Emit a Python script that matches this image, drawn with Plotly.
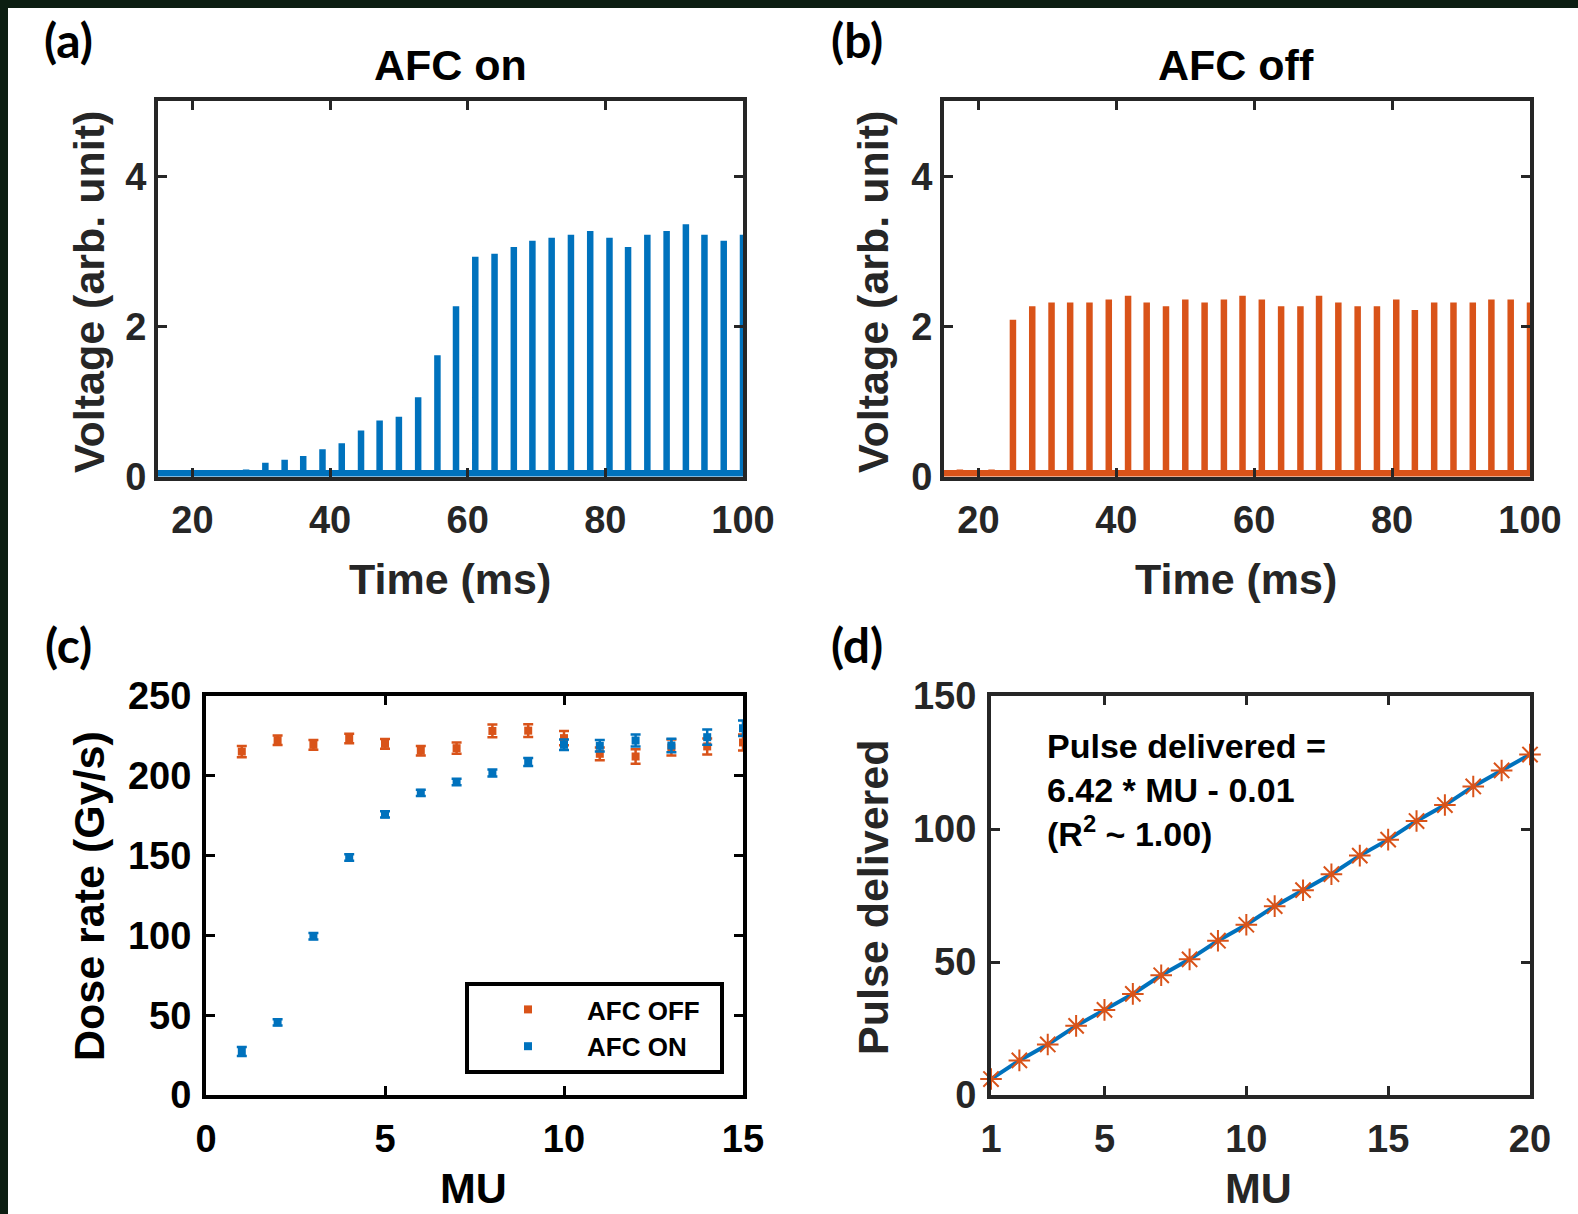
import plotly.graph_objects as go

W, H = 1578, 1214

# ---------------- data ----------------
# (a) AFC on: pulse times (ms) and peak voltages (arb. unit)
afc_on_times = [27.8, 30.6, 33.4, 36.1, 38.9, 41.7, 44.5, 47.2, 50.0, 52.8, 55.6, 58.3,
                61.1, 63.9, 66.7, 69.4, 72.2, 75.0, 77.8, 80.6, 83.3, 86.1, 88.9, 91.7,
                94.4, 97.2, 100.0]
afc_on_peaks = [0.10, 0.19, 0.23, 0.28, 0.37, 0.45, 0.62, 0.75, 0.80, 1.06, 1.62, 2.27,
                2.93, 2.97, 3.06, 3.14, 3.18, 3.22, 3.27, 3.18, 3.06, 3.22, 3.27, 3.36,
                3.22, 3.14, 3.22]

# (b) AFC off: pulse times (ms) and peak voltages (arb. unit)
afc_off_times = [17.3, 21.9, 25.0, 27.8, 30.6, 33.3, 36.1, 38.9, 41.7, 44.4, 47.2, 50.0,
                 52.8, 55.6, 58.3, 61.1, 63.9, 66.7, 69.4, 72.2, 75.0, 77.8, 80.6, 83.3,
                 86.1, 88.9, 91.7, 94.4, 97.2, 100.0]
afc_off_peaks = [0.10, 0.10, 2.09, 2.27, 2.32, 2.32, 2.32, 2.36, 2.41, 2.32, 2.27, 2.36,
                 2.32, 2.36, 2.41, 2.36, 2.27, 2.27, 2.41, 2.32, 2.27, 2.27, 2.36, 2.22,
                 2.32, 2.32, 2.32, 2.36, 2.36, 2.32]
baseline_voltage = 0.05
time_start, time_end = 15, 100

# (c) dose rate vs MU
mu_c = [1, 2, 3, 4, 5, 6, 7, 8, 9, 10, 11, 12, 13, 14, 15]
dose_off = [215.2, 222.3, 219.4, 223.4, 220.0, 215.7, 217.3, 228.1, 228.3, 223.6,
            213.8, 212.1, 217.7, 218.4, 220.9]
dose_off_err = [3.5, 3.0, 3.0, 3.0, 3.0, 3.0, 3.5, 4.0, 4.0, 4.5, 4.0, 4.5, 5.0, 5.0, 5.0]
dose_on = [27.2, 45.5, 99.5, 148.8, 175.8, 189.3, 196.1, 201.7, 208.6, 219.4,
           218.8, 222.1, 219.0, 224.2, 229.8]
dose_on_err = [2.8, 2.0, 2.0, 2.0, 2.0, 2.0, 2.0, 2.2, 2.5, 3.3, 3.6, 3.8, 4.2, 4.8, 4.8]

# (d) pulses delivered vs MU
mu_d = [1, 2, 3, 4, 5, 6, 7, 8, 9, 10, 11, 12, 13, 14, 15, 16, 17, 18, 19, 20]
pulses_d = [6, 13, 19, 26, 32, 38, 45, 51, 58, 64, 71, 77, 83, 90, 96, 103, 109, 116, 122, 128]

BLUE = '#0072BD'
ORANGE = '#D95319'
GRAY = '#262626'


def pulse_train(times, peaks):
    xs, ys = [time_start], [baseline_voltage]
    for t, p in zip(times, peaks):
        xs += [t, t, t]
        ys += [baseline_voltage, p, baseline_voltage]
    xs.append(time_end)
    ys.append(baseline_voltage)
    return xs, ys


fig = go.Figure()

xa, ya = pulse_train(afc_on_times, afc_on_peaks)
fig.add_trace(go.Scatter(x=xa, y=ya, mode='lines', line=dict(color=BLUE, width=6.5),
                         showlegend=False, xaxis='x', yaxis='y'))
xb, yb = pulse_train(afc_off_times, afc_off_peaks)
fig.add_trace(go.Scatter(x=xb, y=yb, mode='lines', line=dict(color=ORANGE, width=6.5),
                         showlegend=False, xaxis='x2', yaxis='y2'))

fig.add_trace(go.Scatter(x=mu_c, y=dose_off, mode='markers', name='AFC OFF&nbsp;&nbsp;',
                         marker=dict(symbol='square', size=8, color=ORANGE),
                         error_y=dict(type='data', array=dose_off_err, color=ORANGE,
                                      thickness=2.5, width=5),
                         cliponaxis=False, xaxis='x3', yaxis='y3'))
fig.add_trace(go.Scatter(x=mu_c, y=dose_on, mode='markers', name='AFC ON',
                         marker=dict(symbol='square', size=8, color=BLUE),
                         error_y=dict(type='data', array=dose_on_err, color=BLUE,
                                      thickness=2.5, width=5),
                         cliponaxis=False, xaxis='x3', yaxis='y3'))

fig.add_trace(go.Scatter(x=mu_d, y=pulses_d, mode='lines', line=dict(color=BLUE, width=4),
                         showlegend=False, xaxis='x4', yaxis='y4'))
fig.add_trace(go.Scatter(x=mu_d, y=pulses_d, mode='markers',
                         marker=dict(symbol='asterisk-open', size=18, color=ORANGE,
                                     line=dict(color=ORANGE, width=2)),
                         cliponaxis=False, showlegend=False, xaxis='x4', yaxis='y4'))


def axis(color, domain, rng, tickvals, anchor, standoff):
    return dict(domain=domain, range=rng, tickvals=tickvals, anchor=anchor,
                automargin=False,
                showline=True, linecolor=color, linewidth=4, mirror='ticks',
                ticks='inside', ticklen=9, tickwidth=3, tickcolor=color,
                showgrid=False, zeroline=False, ticklabelstandoff=standoff,
                tickfont=dict(family='Liberation Sans', size=38, color=color, weight='bold'))


def fx(px):
    return px / W


def fy(py):
    return 1 - py / H


top_ab = [fy(477), fy(101)]
top_cd = [fy(1095), fy(696)]

fig.update_layout(
    width=W, height=H, autosize=False,
    margin=dict(l=0, r=0, t=0, b=0, pad=0),
    paper_bgcolor='white', plot_bgcolor='white',
    xaxis=axis(GRAY, [fx(158), fx(743)], [15, 100], [20, 40, 60, 80, 100], 'y', 6),
    yaxis=axis(GRAY, top_ab, [0, 5], [0, 2, 4], 'x', 0),
    xaxis2=axis(GRAY, [fx(944), fx(1530)], [15, 100], [20, 40, 60, 80, 100], 'y2', 6),
    yaxis2=axis(GRAY, top_ab, [0, 5], [0, 2, 4], 'x2', 0),
    xaxis3=axis('black', [fx(206), fx(743)], [0, 15], [0, 5, 10, 15], 'y3', 7),
    yaxis3=axis('black', top_cd, [0, 250], [0, 50, 100, 150, 200, 250], 'x3', 3),
    xaxis4=axis(GRAY, [fx(991), fx(1530)], [1, 20], [1, 5, 10, 15, 20], 'y4', 7),
    yaxis4=axis(GRAY, top_cd, [0, 150], [0, 50, 100, 150], 'x4', 3),
    legend=dict(x=fx(465), y=fy(982), xanchor='left', yanchor='top',
                bgcolor='white', bordercolor='black', borderwidth=4,
                font=dict(family='Liberation Sans', size=26, color='black', weight='bold'),
                itemwidth=108),
)

# dark frame strips at top and left edges of the image
fig.add_shape(type='rect', xref='paper', yref='paper', x0=0, x1=fx(8), y0=0, y1=1,
              fillcolor='#0c1e12', line=dict(width=0))
fig.add_shape(type='rect', xref='paper', yref='paper', x0=0, x1=1, y0=fy(8), y1=1,
              fillcolor='#0c1e12', line=dict(width=0))


def label(text, px, py, size=43, angle=0, family='Liberation Sans', color='black',
          yanchor='middle'):
    fig.add_annotation(text=text, x=fx(px), y=fy(py), xref='paper', yref='paper',
                       showarrow=False, textangle=angle, xanchor='center', yanchor=yanchor,
                       font=dict(family=family, size=size, color=color, weight='bold'))


label('AFC on', 450, 65)
label('AFC off', 1236, 65)
label('Time (ms)', 450, 579, color=GRAY)
label('Time (ms)', 1236, 579, color=GRAY)
label('Voltage (arb. unit)', 89, 292, angle=-90, color=GRAY)
label('Voltage (arb. unit)', 873, 292, angle=-90, color=GRAY)
label('Dose rate (Gy/s)', 89, 896, angle=-90)
label('MU', 473, 1214, yanchor='bottom')
label('Pulse delivered', 873, 897, angle=-90, color=GRAY)
label('MU', 1258, 1214, color=GRAY, yanchor='bottom')
for t, px, py in [('(a)', 68, 40), ('(b)', 857, 40), ('(c)', 68, 644), ('(d)', 857, 644)]:
    label(t, px, py, size=48, family='Lato')

fig.add_annotation(text='Pulse delivered =<br>6.42 * MU - 0.01<br>(R<sup>2</sup> ~ 1.00)',
                   x=fx(1045), y=fy(790), xref='paper', yref='paper', showarrow=False,
                   xanchor='left', yanchor='middle', align='left',
                   font=dict(family='Liberation Sans', size=34, color='black', weight='bold'))

fig.write_html('out.html', config={'displayModeBar': False})
